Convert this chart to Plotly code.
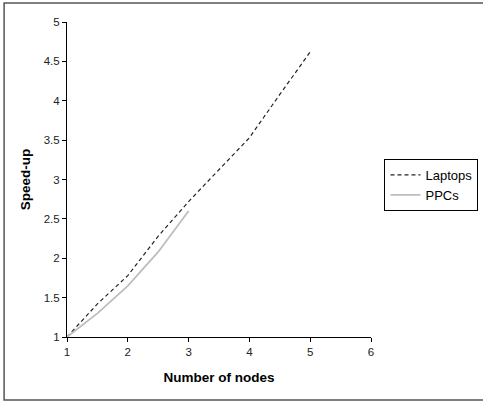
import plotly.graph_objects as go

laptops_x = [1, 1.5, 2, 2.5, 3, 3.5, 4, 4.5, 5]
laptops_y = [1, 1.42, 1.78, 2.28, 2.72, 3.12, 3.53, 4.08, 4.62]
ppcs_x = [1, 1.5, 2, 2.5, 3]
ppcs_y = [1, 1.30, 1.65, 2.08, 2.60]
y_ticks = [1, 1.5, 2, 2.5, 3, 3.5, 4, 4.5, 5]
x_ticks = [1, 2, 3, 4, 5, 6]

W, H = 483, 403
L, R, T, B = 67, 371.5, 22, 337
pw, ph = R - L, B - T

fig = go.Figure()
fig.add_trace(go.Scatter(x=laptops_x, y=laptops_y, name="Laptops", mode="lines",
                         line=dict(color="#222222", width=1.2, dash="4px,3px")))
fig.add_trace(go.Scatter(x=ppcs_x, y=ppcs_y, name="PPCs", mode="lines",
                         line=dict(color="#bdbdbd", width=1.8)))

def px_x(p):
    return (p - L) / pw

def px_y(p):
    return (B - p) / ph

# outer chart frame: left, top and bottom sides (right side lies beyond the image)
fx0, fx1 = px_x(4), px_x(490)
fy0, fy1 = px_y(400), px_y(3)
frame_path = f"M {fx1} {fy1} L {fx0} {fy1} L {fx0} {fy0} L {fx1} {fy0}"

fig.update_layout(
    width=W, height=H,
    margin=dict(l=L, r=W - R, t=T, b=H - B, pad=0, autoexpand=False),
    paper_bgcolor="white", plot_bgcolor="white",
    font=dict(family="Liberation Sans, Arial, sans-serif", size=11, color="#000000"),
    xaxis=dict(range=[1, 6], tickvals=x_ticks, showgrid=False, zeroline=False,
               showline=True, linecolor="#000000", linewidth=1,
               ticks="outside", ticklen=4, tickcolor="#000000",
               tickfont=dict(size=11.5, color="#222222"),
               title=dict(text="Number of nodes", standoff=15,
                          font=dict(size=13.5, weight="bold", color="#000000"))),
    yaxis=dict(range=[1, 5], tickvals=y_ticks, showgrid=False, zeroline=False,
               showline=True, linecolor="#000000", linewidth=1,
               ticks="outside", ticklen=4, tickcolor="#000000",
               tickfont=dict(size=11.5, color="#222222"),
               title=dict(text="Speed-up", standoff=9,
                          font=dict(size=13.5, weight="bold", color="#000000"))),
    legend=dict(x=px_x(385), y=px_y(159), xanchor="left", yanchor="top",
                bordercolor="#000000", borderwidth=1, bgcolor="white",
                font=dict(size=13, color="#000000"), tracegroupgap=0,
                itemwidth=30),
    shapes=[dict(type="path", xref="paper", yref="paper", path=frame_path,
                 line=dict(color="#555555", width=1.5), layer="below")],
)

fig.write_html(
    "out.html",
    config={"displayModeBar": False, "responsive": False, "staticPlot": True},
    post_script="document.body.style.margin='0';document.body.style.padding='0';"
                "document.body.style.overflow='hidden';"
                "document.documentElement.style.overflow='hidden';",
)
